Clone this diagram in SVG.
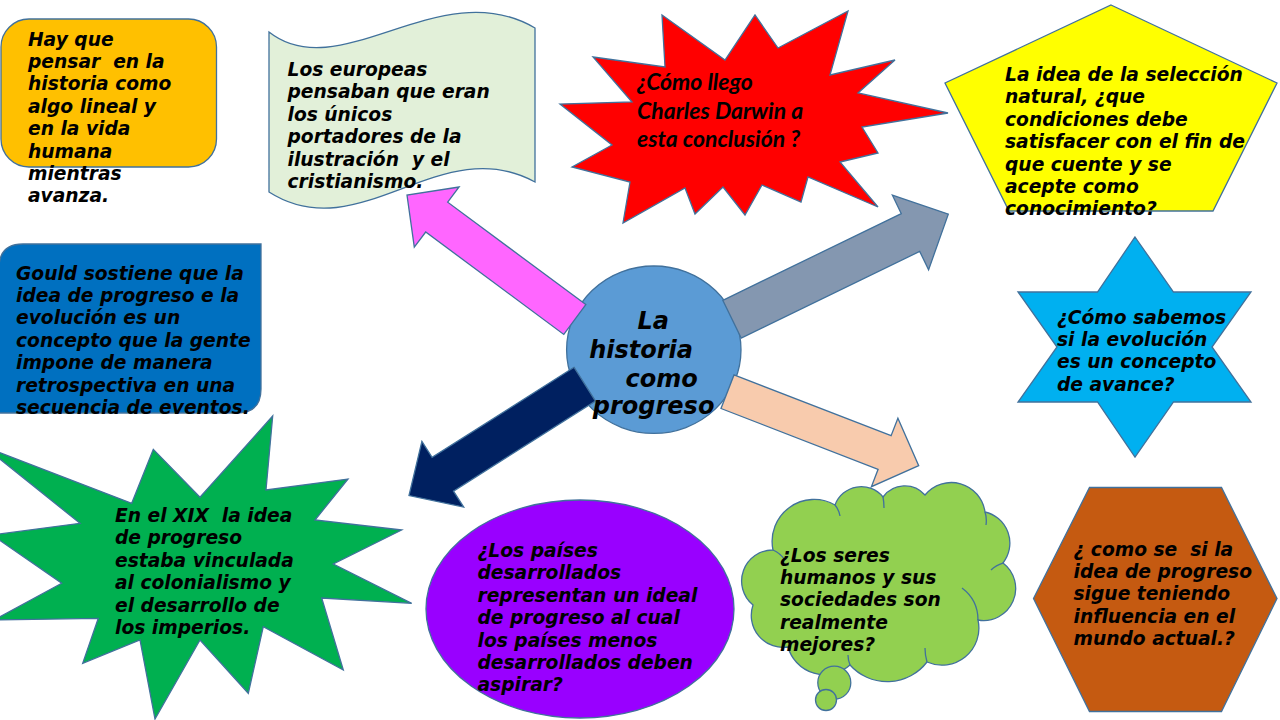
<svg xmlns="http://www.w3.org/2000/svg" width="1280" height="720" viewBox="0 0 1280 720">
<style>
.s{stroke:#41719C;stroke-width:1.3;stroke-linejoin:miter}
.t{font-family:"DejaVu Sans",sans-serif;font-weight:bold;font-style:oblique;font-size:18.67px;fill:#000;white-space:pre}
.c{font-family:"DejaVu Sans",sans-serif;font-weight:bold;font-style:oblique;font-size:24px;fill:#000;white-space:pre}
.r{font-family:Lato,"Open Sans",sans-serif;font-style:italic;font-weight:bold;font-size:23px;fill:#000;white-space:pre}
.ca{fill:none;stroke:#41719C;stroke-width:1.3}
</style>
<rect width="1280" height="720" fill="#fff"/>

<g id="node-lineal">
<rect class="s" x="1" y="19" width="215.5" height="148" rx="28" fill="#FFC000"/>
<text class="t"><tspan x="28" y="45.5">Hay que</tspan><tspan x="28" y="67.9">pensar  en la</tspan><tspan x="28" y="90.3">historia como</tspan><tspan x="28" y="112.7">algo lineal y</tspan><tspan x="28" y="135.1">en la vida</tspan><tspan x="28" y="157.5">humana</tspan><tspan x="28" y="179.9">mientras</tspan><tspan x="28" y="202.3">avanza.</tspan></text>
</g>

<g id="node-europeas">
<path class="s" fill="#E2F0D9" d="M269,32 C340,88 440,-28 535,28 L535,182 C440,130 360,250 269,192 Z"/>
<text class="t"><tspan x="287.5" y="76">Los europeas</tspan><tspan x="287.5" y="98.4">pensaban que eran</tspan><tspan x="287.5" y="120.8">los únicos</tspan><tspan x="287.5" y="143.2">portadores de la</tspan><tspan x="287.5" y="165.6">ilustración  y el</tspan><tspan x="287.5" y="188">cristianismo.</tspan></text>
</g>

<g id="node-darwin">
<polygon class="s" fill="#FF0000" points="662,15 725,60 755,15 778,48 848,11 830,75 895,60 858,93 948,113 862,127 878,153 840,162 878,207 808,177 801,202 762,185 745,215 723,187 695,214 685,188 623,223 630,182 572,167 612,145 560,104 632,102 593,57 665,67"/>
<text class="r"><tspan x="637" y="90">¿Cómo llego</tspan><tspan x="637" y="118.5">Charles Darwin a</tspan><tspan x="637" y="147">esta conclusión ?</tspan></text>
</g>

<g id="node-seleccion">
<polygon class="s" fill="#FFFF00" points="1111,5 1277,83 1213,211 1009,211 945,83"/>
<text class="t"><tspan x="1005" y="81">La idea de la selección</tspan><tspan x="1005" y="103.4">natural, ¿que</tspan><tspan x="1005" y="125.8">condiciones debe</tspan><tspan x="1005" y="148.2">satisfacer con el fin de</tspan><tspan x="1005" y="170.6">que cuente y se</tspan><tspan x="1005" y="193">acepte como</tspan><tspan x="1005" y="215.4">conocimiento?</tspan></text>
</g>

<g id="node-gould">
<path class="s" fill="#0070C0" d="M-1,268 Q-1,244 23,244 L261,244 L261,389 Q261,413 237,413 L-1,413 Z"/>
<text class="t"><tspan x="16" y="279.5">Gould sostiene que la</tspan><tspan x="16" y="301.9">idea de progreso e la</tspan><tspan x="16" y="324.3">evolución es un</tspan><tspan x="16" y="346.7">concepto que la gente</tspan><tspan x="16" y="369.1">impone de manera</tspan><tspan x="16" y="391.5">retrospectiva en una</tspan><tspan x="16" y="413.9">secuencia de eventos.</tspan></text>
</g>

<g id="node-center">
<ellipse class="s" cx="653.8" cy="349.7" rx="87.2" ry="83.7" fill="#5B9BD5"/>
</g>

<g id="node-avance">
<polygon class="s" fill="#00B0F0" points="1135,237 1173.5,292 1251,292 1212,347 1251,402 1173.5,402 1135,457 1097.5,402 1018,402 1057,347 1018,292 1097.5,292"/>
<text class="t"><tspan x="1057" y="323.5">¿Cómo sabemos</tspan><tspan x="1057" y="345.9">si la evolución</tspan><tspan x="1057" y="368.3">es un concepto</tspan><tspan x="1057" y="390.7">de avance?</tspan></text>
</g>

<g id="node-colonialismo">
<polygon class="s" fill="#00B050" points="-15,447 131.7,503.3 153.3,449.3 200,497.3 272.7,416 266,490 348,479 315,520 401.7,530 333.3,564 411.7,603.3 321.7,598 343.3,670 263.3,626.7 248.3,693.3 200,640 155,719 140,640 82.7,663.3 98.3,618.3 -6,620 61.7,583.3 -8,535 80,523.3"/>
<text class="t"><tspan x="115" y="522">En el XIX  la idea</tspan><tspan x="115" y="544.4">de progreso</tspan><tspan x="115" y="566.8">estaba vinculada</tspan><tspan x="115" y="589.2">al colonialismo y</tspan><tspan x="115" y="611.6">el desarrollo de</tspan><tspan x="115" y="634">los imperios.</tspan></text>
</g>

<g id="node-paises">
<ellipse class="s" cx="580" cy="609" rx="154" ry="109" fill="#9900FF"/>
<text class="t"><tspan x="477.5" y="557">¿Los países</tspan><tspan x="477.5" y="579.4">desarrollados</tspan><tspan x="477.5" y="601.8">representan un ideal</tspan><tspan x="477.5" y="624.2">de progreso al cual</tspan><tspan x="477.5" y="646.6">los países menos</tspan><tspan x="477.5" y="669">desarrollados deben</tspan><tspan x="477.5" y="691.4">aspirar?</tspan></text>
</g>

<g id="node-seres">
<path class="s" fill="#92D050" d="M773,550 A42,42 0 0 1 835,505 A28,28 0 0 1 883,497 A27,27 0 0 1 925,495 A34,34 0 0 1 985,512 A32,32 0 0 1 1003,563 A32,32 0 0 1 978,620 A37,37 0 0 1 927,662 A50,50 0 0 1 850,665 A38,38 0 0 1 788,647 A32,32 0 0 1 753,605 A31,31 0 0 1 773,550 Z"/>
<path class="ca" d="M773,550 Q780,553 785,560 M835,505 Q839,510 840,516 M883,497 Q884,502 884,508 M985,512 Q987,518 986,525 M1003,563 Q996,565 991,570 M978,620 Q978,600 962,588 M927,662 Q925,655 925,648 M850,665 Q848,660 848,655 M788,647 Q792,642 797,640"/>
<circle class="s" cx="834.3" cy="682.7" r="16.5" fill="#92D050"/>
<circle class="s" cx="826" cy="700" r="10.5" fill="#92D050"/>
<text class="t"><tspan x="780" y="561.5">¿Los seres</tspan><tspan x="780" y="583.9">humanos y sus</tspan><tspan x="780" y="606.3">sociedades son</tspan><tspan x="780" y="628.7">realmente</tspan><tspan x="780" y="651.1">mejores?</tspan></text>
</g>

<g id="node-influencia">
<polygon class="s" fill="#C55A11" points="1089.5,487.5 1221.5,487.5 1277,598.5 1221.5,711.5 1089.5,711.5 1033.5,598.5"/>
<text class="t"><tspan x="1073.5" y="555.5">¿ como se  si la</tspan><tspan x="1073.5" y="577.9">idea de progreso</tspan><tspan x="1073.5" y="600.3">sigue teniendo</tspan><tspan x="1073.5" y="622.7">influencia en el</tspan><tspan x="1073.5" y="645.1">mundo actual.?</tspan></text>
</g>

<g id="connectors">
<polygon class="s" fill="#FF66FF" points="585.8,304.6 447.7,202.2 459.1,187 407,195 414.3,247.2 425.7,232 563.8,334.4"/>
<polygon class="s" fill="#8497B0" points="722.8,300.3 901.3,213.6 892.4,195.2 948.3,214.1 928.6,269.8 919.7,251.4 741.2,338.1"/>
<polygon class="s" fill="#F8CBAD" points="734,374.9 891.1,435.7 897.9,418.3 918.7,465.7 871.4,486.7 878.1,469.3 721,408.5"/>
<polygon class="s" fill="#002060" points="574.1,367.3 432.1,457.3 421.9,441.3 409,495.6 463.7,507.1 453.5,491.1 595.5,401.1"/>
</g>

<g id="node-center-label">
<text class="c"><tspan x="637.4" y="329">La</tspan><tspan x="589.2" y="358">historia</tspan><tspan x="625.6" y="386.5">como</tspan><tspan x="592.8" y="414">progreso</tspan></text>
</g>
</svg>
